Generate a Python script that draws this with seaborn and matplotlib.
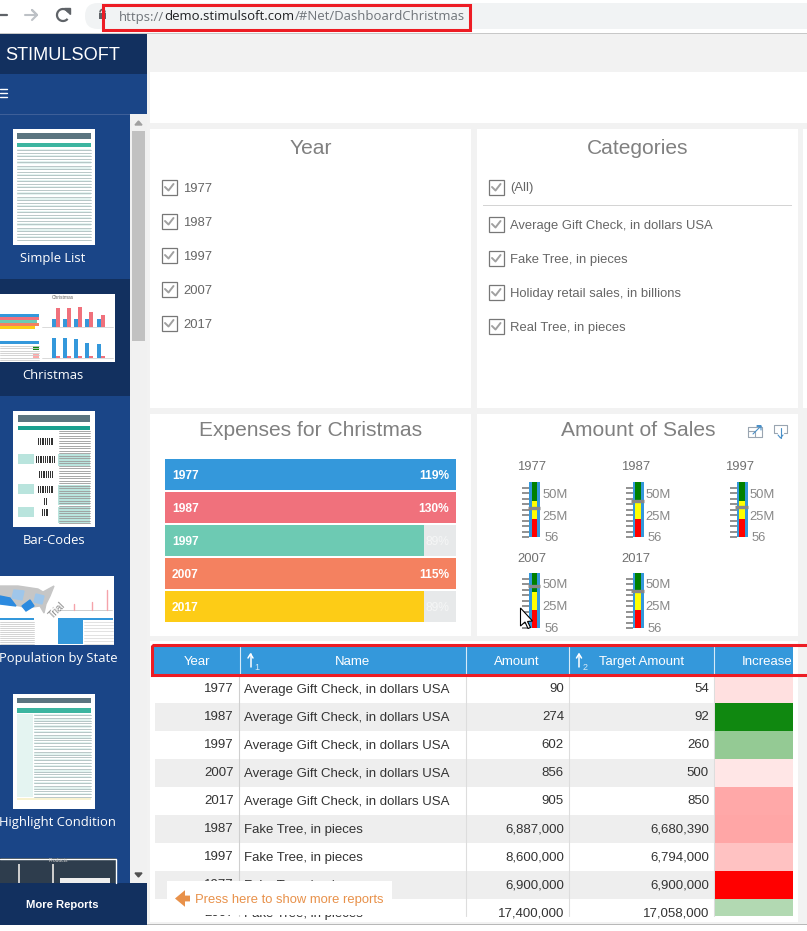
import matplotlib
matplotlib.use("Agg")
import matplotlib.pyplot as plt
import seaborn as sns
import numpy as np
from matplotlib.colors import LinearSegmentedColormap
from matplotlib.patches import Rectangle, Polygon, FancyBboxPatch, Arc

W, H = 807, 931

# filter lists
years = ["1977", "1987", "1997", "2007", "2017"]
categories = ["Average Gift Check, in dollars USA", "Fake Tree, in pieces",
              "Holiday retail sales, in billions", "Real Tree, in pieces"]

# expenses bars
expense_pct = [119, 130, 89, 115, 89]
expense_colors = ["#3498db", "#f0717c", "#6dcab3", "#f48160", "#fdcc16"]

# gauges, values in dollars
gauge_values = [33.5e6, 41e6, 34e6, 48e6, 42e6]
gauge_band_tops = [62.5e6, 41.4e6, 20.3e6]
gauge_band_colors = ["#008000", "#ffff00", "#ff0000"]
gauge_ticks = [56, 25e6, 50e6]
gauge_tick_labels = ["56", "25M", "50M"]

# table
table_years = [1977, 1987, 1997, 2007, 2017, 1987, 1997, 1977, 2007]
table_names = ["Average Gift Check, in dollars USA"] * 5 + ["Fake Tree, in pieces"] * 4
table_amount = [90, 274, 602, 856, 905, 6887000, 8600000, 6900000, 17400000]
table_target = [54, 92, 260, 500, 850, 6680390, 6794000, 6900000, 17058000]
table_shade = [-0.12, 0.93, 0.42, -0.10, -0.34, -0.35, -0.24, -1.0, 0.30]

# sidebar captions
report_names = ["Simple List", "Christmas", "Bar-Codes", "Population by State", "Highlight Condition"]

sns.set_theme(style="white")
plt.rcParams["font.family"] = ["Liberation Sans", "DejaVu Sans"]

NAVY = "#12305f"
BLUE = "#1a4587"
PAGE = "#f2f2f2"
HEAD = "#3498db"
GREY = "#808080"
TEXT = "#666666"


def px(size):
    return size * 0.72


fig = plt.figure(figsize=(W / 100, H / 100), dpi=100, facecolor="white")


def px_axes(x0, y0, x1, y1, z=1):
    ax = fig.add_axes([x0 / W, 1 - y1 / H, (x1 - x0) / W, (y1 - y0) / H], zorder=z)
    ax.patch.set_alpha(0)
    return ax


page = px_axes(0, 0, W, H, 0)
page.set_xlim(0, W)
page.set_ylim(H, 0)
page.axis("off")


def box(ax, x0, y0, x1, y1, color, **kw):
    ax.add_patch(Rectangle((x0, y0), x1 - x0, y1 - y0, facecolor=color, edgecolor="none", **kw))


def label(ax, x, y, s, size, color=TEXT, ha="left", **kw):
    return ax.text(x, y, s, fontsize=px(size), color=color, ha=ha, va="center_baseline", **kw)


# browser bar
page.add_patch(FancyBboxPatch((85, 3), 800, 26, boxstyle="round,pad=0,rounding_size=13",
                              facecolor="#f1f3f4", edgecolor="none"))
box(page, 0, 33, W, 34, "#c8c8c8")
page.plot([0, 7], [15, 15], color="#5f6368", lw=1.6)
page.plot([25, 37, 32, 37, 32], [15, 15, 10, 15, 20], color="#bdc1c6", lw=1.5)
page.add_patch(Arc((63, 15), 12, 12, theta1=-320, theta2=-30, color="#5f6368", lw=1.6))
page.add_patch(Polygon([[64, 8], [70, 8], [70, 14]], color="#5f6368"))
box(page, 99, 13, 106, 19, "#5f6368")
page.add_patch(Arc((102.5, 12.5), 5, 6, theta1=180, theta2=360, color="#5f6368", lw=1.2))
renderer = fig.canvas.get_renderer()
url_x = 119
for part, c in [("https://", "#70757a"), ("demo.stimulsoft.com", "#202124"), ("/#Net/DashboardChristmas", "#70757a")]:
    t = label(page, url_x, 15.5, part, 13.1, c, family="Open Sans")
    url_x += t.get_window_extent(renderer).width

# page background and panels
box(page, 147, 34, W, 925, PAGE)
box(page, 150, 72, W, 123, "white")
for x0, x1 in [(150, 471), (477, 798)]:
    box(page, x0, 129, x1, 408, "white")
    box(page, x0, 414, x1, 636, "white")
box(page, 803, 129, W, 408, "white")
box(page, 150, 641, 798, 922, "white")
box(page, 147, 923.5, W, 925, "#b8b8b8")
box(page, 147, 925, W, H, "white")

# sidebar
box(page, 0, 34, 147, 925, BLUE)
box(page, 0, 34, 147, 74, NAVY)
box(page, 0, 113.5, 130, 114.5, "#3e5f98")
box(page, 0, 279, 130, 396, NAVY)
box(page, 130, 114, 147, 883, "#f1f1f1")
box(page, 132, 131, 145, 341, "#c1c1c1")
page.add_patch(Polygon([[135, 125], [142, 125], [138.5, 121]], color="#a0a0a0"))
page.add_patch(Polygon([[135, 873], [142, 873], [138.5, 877]], color="#505050"))
label(page, 5, 53.5, "STIMULSOFT", 18.2, "white")
for y in [89, 93, 97]:
    page.plot([0, 7], [y, y], color="white", lw=1)
box(page, 0, 883, 147, 925, NAVY)
label(page, 62, 903.5, "More Reports", 11.3, "white", ha="center", weight="bold")

caption_pos = [(53, 257), (53, 374), (54, 539), (58, 657), (57, 821)]
for name, (x, y) in zip(report_names, caption_pos):
    label(page, x, y, name, 13, "white", ha="center", family="Open Sans")


def thumb_rows(x0, x1, y0, y1, n, color="#aebfbf"):
    ys = np.linspace(y0, y1, n)
    for i, y in enumerate(ys):
        if i % 2 == 0 and color == "#aebfbf":
            box(page, x0, y - 1.2, x1, y + 1.2, "#e4f4f1")
        page.plot([x0, x1], [y, y], color=color, lw=0.6)


# report thumbnails
box(page, 13, 129, 95, 245, "white")
box(page, 17, 133, 91, 139, "#5b7580")
box(page, 17, 142.5, 91, 147, "#3cb5a0")
thumb_rows(17, 91, 150, 240, 30)

box(page, 0, 294, 115, 362, "white")
box(page, 0, 314, 39, 317, "#3498db")
box(page, 0, 317, 39, 320, "#f0717c")
box(page, 0, 320, 37, 323, "#6dcab3")
box(page, 0, 323, 39, 326, "#f48160")
box(page, 0, 326, 35, 329, "#fdcc16")
box(page, 0, 341, 39, 344, "#3498db")
thumb_rows(0, 39, 346, 360, 7, "#cccccc")
box(page, 33, 346, 39, 350, "#118811")
box(page, 33, 354, 39, 358, "#ffa8a8")
page.plot([42, 113], [327, 327], color="#cccccc", lw=0.5)
page.plot([42, 113], [358, 358], color="#cccccc", lw=0.5)
for x0, a, b in zip([52, 63, 74, 85, 97], [8, 8, 8, 8, 8], [19, 19, 20, 15, 12]):
    box(page, x0, 327 - a, x0 + 4, 327, "#3498db")
    box(page, x0 + 4, 327 - b, x0 + 8, 327, "#f0717c")
for x0, a in zip([52, 63, 74, 85, 97], [20, 20, 19, 15, 14]):
    box(page, x0, 358 - a, x0 + 4, 358, "#3498db")
    box(page, x0 + 4, 356, x0 + 8, 358, "#f0717c")
page.text(52, 297.5, "Christmas", fontsize=3.5, color="#666666", ha="left", va="center")

box(page, 13, 411, 95, 527, "white")
box(page, 18, 415, 90, 422, "#5b7580")
box(page, 18, 426, 90, 429.5, "#1aa090")
for y, x0, x1 in [(441, 38, 54), (459, 36, 55), (474, 39, 52), (489, 38, 53), (501, 44, 46.5), (512, 42, 48)]:
    for xx in np.arange(x0, x1, 1.8):
        box(page, xx, y - 3.5, xx + 1, y + 3.5, "#333333")
for y in [454, 484, 507]:
    box(page, 18, y, 34, y + 10, "#b9e4dd")
box(page, 58, 454, 90, 466, "#b9e4dd")
box(page, 58, 485, 90, 505, "#b9e4dd")
box(page, 58, 507, 90, 523, "#b9e4dd")
thumb_rows(59, 90, 431, 523, 38, "#999999")

box(page, 0, 576, 114, 645, "white")
page.add_patch(Polygon([[0, 586], [18, 586], [38, 589], [43, 592], [54, 586], [50, 596], [46, 604], [44, 613],
                        [40, 606], [26, 608], [20, 606], [0, 603]], color="#c6c6c6"))
page.add_patch(Polygon([[0, 596], [10, 598], [16, 606], [0, 604]], color="#2c8adf"))
page.add_patch(Polygon([[22, 606], [30, 600], [34, 606], [26, 611]], color="#2c8adf"))
page.add_patch(Polygon([[14, 590], [24, 591], [22, 600], [12, 598]], color="#9fc6ea"))
page.add_patch(Polygon([[36, 594], [44, 596], [42, 604], [34, 602]], color="#9fc6ea"))
page.plot([60, 112], [610, 610], color="#bbbbbb", lw=0.5)
page.plot([107, 107], [590, 610], color="#f5a3aa", lw=1)
page.plot([74, 74], [604, 610], color="#f5a3aa", lw=1)
page.plot([92, 92], [602, 610], color="#f5a3aa", lw=1)
box(page, 0, 618, 34, 620, "#3498db")
thumb_rows(0, 34, 622, 644, 12, "#cccccc")
box(page, 58, 618, 83, 644, "#3498db")
box(page, 83, 618, 113, 620, "#3498db")
thumb_rows(84, 113, 622, 644, 8, "#dddddd")
page.text(57, 610, "Trial", fontsize=7, color="#888888", rotation=45, ha="center", va="center")

box(page, 13, 694, 95, 809, "white")
box(page, 17, 698, 91, 703, "#5b7580")
box(page, 17, 708, 91, 713, "#3cb5a0")
box(page, 17, 714, 33, 797, "#e4f4f1")
thumb_rows(34, 91, 715, 797, 30)
box(page, 17, 798, 91, 800, "#f8f2d0")

box(page, 0, 858, 116, 883, "#2e3d4d", linewidth=0)
page.plot([0, 116, 116], [858.5, 858.5, 883], color="white", lw=1)
page.text(58, 861, "Products", fontsize=3.5, color="#cccccc", ha="center", va="center")
box(page, 60, 878, 110, 883, "#eeeeee")
box(page, 18, 864, 20, 883, "#cccccc")
box(page, 52, 864, 54, 883, "#cccccc")


def checkbox(x, y):
    page.add_patch(Rectangle((x, y - 7), 14.5, 14.5, facecolor="white", edgecolor="#777777", lw=0.9))
    page.plot([x + 3, x + 6.5, x + 11.5], [y, y + 3.5, y - 3], color="#a0a0a0", lw=1.4)


# filters
label(page, 311, 147, "Year", 21, GREY, ha="center")
for i, year in enumerate(years):
    checkbox(162, 187 + 34 * i)
    label(page, 183, 187 + 34 * i, year, 13)

label(page, 638, 147, "Categories", 21, GREY, ha="center")
checkbox(489, 187)
label(page, 510, 187, "(All)", 13)
box(page, 483, 205.3, 792, 206.3, "#d4d4d4")
for i, name in enumerate(categories):
    checkbox(489, 224 + 34 * i)
    label(page, 510, 224 + 34 * i, name, 13)

# expenses chart
label(page, 310.5, 429, "Expenses for Christmas", 21, GREY, ha="center")
exp_ax = px_axes(165, 458, 456, 623)
sns.barplot(x=[100] * 5, y=years, color="#e7e9ea", saturation=1, width=0.91, orient="h", linewidth=0, ax=exp_ax)
sns.barplot(x=expense_pct, y=years, hue=years, palette=expense_colors, saturation=1, width=0.91,
            orient="h", legend=False, linewidth=0, ax=exp_ax)
exp_ax.set_xlim(0, 100)
exp_ax.axis("off")
for i, (year, pct) in enumerate(zip(years, expense_pct)):
    exp_ax.text(2.4, i, year, color="white", fontsize=px(12), weight="bold", va="center_baseline")
    exp_ax.text(97.7, i, f"{pct}%", color="white" if pct >= 100 else "#f5f6f6", fontsize=px(12),
                weight="bold" if pct >= 100 else "normal", ha="right", va="center_baseline")

# amount of sales gauges
label(page, 638, 429, "Amount of Sales", 21, GREY, ha="center")
gauge_cols = [0, 103.7, 207.5, 0, 103.7]
gauge_rows = [0, 0, 0, 91, 91]
for year, value, dx, dy in zip(years, gauge_values, gauge_cols, gauge_rows):
    label(page, 517.5 + dx, 466 + dy, year, 13, "#707070")
    ax = px_axes(529 + dx, 482 + dy, 540 + dx, 537 + dy, 2)
    sns.barplot(x=[year], y=[gauge_band_tops[0]], color=HEAD, saturation=1, width=1.0, linewidth=0, ax=ax)
    for band_top, color in zip(gauge_band_tops, gauge_band_colors):
        sns.barplot(x=[year], y=[band_top], color=color, saturation=1, width=0.5, linewidth=0, ax=ax)
    ax.set_xlim(-0.5, 0.5)
    ax.set_ylim(0, gauge_band_tops[0])
    sns.despine(ax=ax, left=True, bottom=True)
    ax.set_xticks([])
    ax.yaxis.remove_overlapping_locs = False
    ax.set_yticks(gauge_ticks, gauge_tick_labels)
    ax.set_yticks(np.arange(10) * 6.25e6, minor=True)
    ax.tick_params(which="minor", left=True, right=False, length=5.3, width=1.3, color="#888888")
    ax.tick_params(which="major", left=False, right=False, length=0, labelleft=False, labelright=True,
                   pad=1.5, labelcolor="#888888", labelsize=px(13))
    ax.yaxis.get_major_ticks()[0].set_pad(3.0)
    ax.plot([-0.62, 0.5], [value, value], color="#888888", lw=2.4, solid_capstyle="butt", clip_on=False)

# expand and export icons
page.plot([748, 748, 762, 762, 748], [427, 437, 437, 427, 427], color="#9aa5b1", lw=0.8)
page.plot([748, 755, 755], [431, 431, 437], color="#9aa5b1", lw=0.8)
page.plot([753, 761, 757, 761, 761], [434, 426, 426, 426, 430], color="#4a90c8", lw=0.8)
page.plot([777, 774, 774, 787, 787, 784], [433, 433, 425, 425, 433, 433], color="#9aa5b1", lw=0.8)
page.plot([780.5, 780.5], [428, 438], color="#4a90c8", lw=0.8)
page.plot([778, 780.5, 783], [435, 438, 435], color="#4a90c8", lw=0.8)

# table rows
rows_top = 674
row_h = 28
clip = Rectangle((150, rows_top), 648, 242, transform=page.transData)
for i in range(len(table_years)):
    if i % 2 == 1:
        box(page, 155, rows_top + 1 + row_h * i, 714, min(rows_top + 1 + row_h * (i + 1), 916), "#eeeeee")
for x, c in [(239, "#cfcfcf"), (465.5, "#dddddd"), (569, "#dddddd"), (714, "#dddddd")]:
    page.plot([x, x], [rows_top, 916], color=c, lw=0.8)
for i, (yr, name, amount, target) in enumerate(zip(table_years, table_names, table_amount, table_target)):
    y = rows_top + 14 + row_h * i
    row_texts = [label(page, 234, y, str(yr), 13.2, "#333333", ha="right"),
                 label(page, 244, y, name, 13.2, "#333333"),
                 label(page, 564, y, f"{amount:,}", 13.2, "#333333", ha="right"),
                 label(page, 709, y, f"{target:,}", 13.2, "#333333", ha="right")]
    for t in row_texts:
        t.set_clip_path(clip)

# increase column
cmap = LinearSegmentedColormap.from_list("increase", ["#ff0000", "#ffffff", "#008000"])
heat_ax = px_axes(714.5, rows_top + 1, 793, 916)
sns.heatmap(np.array(table_shade).reshape(-1, 1), cmap=cmap, vmin=-1, vmax=1, cbar=False,
            xticklabels=False, yticklabels=False, ax=heat_ax)
heat_ax.set_ylim(241 / row_h, 0)

# table header
box(page, 154, 647, 793, 674, HEAD)
for x in [239.5, 465.5, 569, 714]:
    page.plot([x, x], [647, 674], color="#d6eaf8", lw=0.8)
hdr = dict(size=13.2, color="white", ha="center")
label(page, 197, 660.5, "Year", **hdr)
label(page, 352, 660.5, "Name", **hdr)
label(page, 517, 660.5, "Amount", **hdr)
label(page, 642, 660.5, "Target Amount", **hdr)
label(page, 742, 660.5, "Increase", 13.2, "white").set_clip_path(
    Rectangle((715, 647), 78, 27, transform=page.transData))
for x, n in [(250.5, "1"), (579, "2")]:
    page.plot([x, x], [654, 667], color="white", lw=1.1)
    page.plot([x - 2.5, x, x + 2.5], [658, 654, 658], color="white", lw=1.1)
    label(page, x + 6, 667, n, 9, "#d6eaf8", ha="center")

# things floating above everything
over = px_axes(0, 0, W, H, 5)
over.set_xlim(0, W)
over.set_ylim(H, 0)
over.axis("off")
box(over, 167, 881, 392, 915, "white")
over.annotate("", xy=(175, 898.5), xytext=(190, 898.5),
              arrowprops=dict(arrowstyle="simple,head_width=1.0,head_length=0.6,tail_width=0.35",
                              color="#e8914a", lw=0, shrinkA=0, shrinkB=0))
label(over, 195, 899, "Press here to show more reports", 13, "#e8914a")
over.add_patch(Rectangle((152, 645), 670, 30, facecolor="none", edgecolor="#ed1c24", lw=2.2))
over.add_patch(Rectangle((103, 5), 367, 25, facecolor="none", edgecolor="#ed1c24", lw=2.2))
over.add_patch(Polygon([[520.5, 608], [520.5, 626], [525, 622], [528, 628.5], [530.5, 627.5], [527.5, 621.5],
                        [532.5, 621]], facecolor="white", edgecolor="black", lw=0.8))

fig.savefig("out.png", dpi=100)
